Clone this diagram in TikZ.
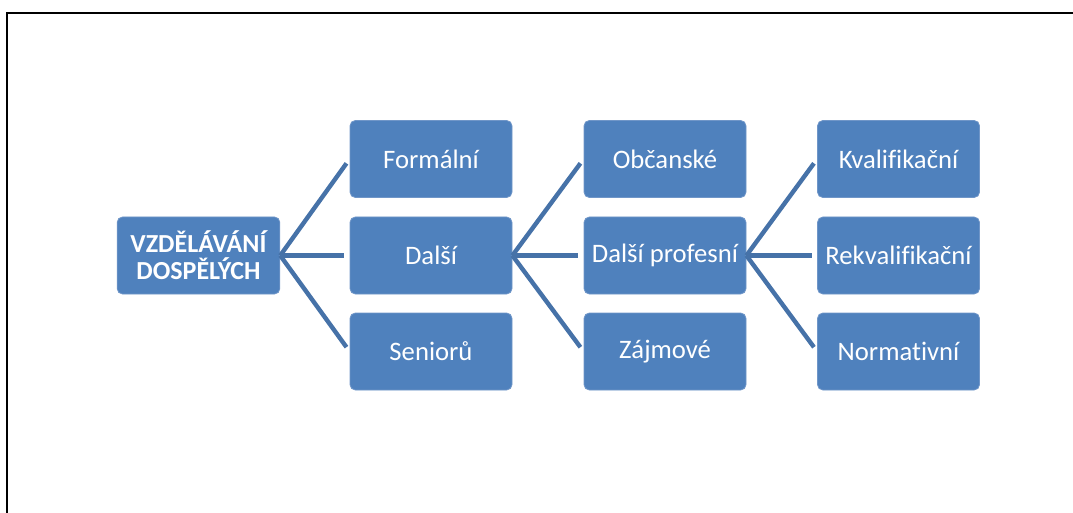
\documentclass[tikz,border=0pt]{standalone}
\usepackage{fontspec}
\setmainfont[RawFeature={-liga;-dlig}]{Carlito}
\definecolor{boxblue}{HTML}{4F81BD}
\definecolor{boxedge}{HTML}{7096C8}
\definecolor{linkblue}{HTML}{4672A8}
\tikzset{
  topic/.style={rectangle, rounded corners=4pt, fill=boxblue, draw=boxedge, line width=0.6pt,
    minimum width=121.5pt, minimum height=57.75pt, text=white, font=\fontsize{20}{22}\selectfont,
    align=center, inner sep=2pt},
  rootbox/.style={topic, minimum width=122pt, font=\bfseries\fontsize{19.5}{20.5}\selectfont},
  link/.style={linkblue, line width=3.3pt, shorten >=4pt}
}
\begin{document}
\begin{tikzpicture}[x=0.75pt, y=-0.75pt]
    \useasboundingbox (0,0) rectangle (1073,513);
    % frame
    \draw[line width=1.6pt] (1073,13) -- (7,13) -- (7,513);

    % Define nodes for the four levels
    \node[rootbox] (root) at (198.5, 255.5) {VZDĚLÁVÁNÍ\\DOSPĚLÝCH};

    \node[topic] (formal) at (431, 159) {Formální};
    \node[topic] (dalsi) at (431, 255.5) {Další};
    \node[topic] (senior) at (431, 351.5) {Seniorů};

    \node[topic] (obcan) at (665, 159) {Občanské};
    \node[topic] (profes) at (665, 255.5) {Další profesní};
    \node[topic] (zajem) at (665, 351.5) {Zájmové};

    \node[topic] (kval) at (898.5, 159) {Kvalifikační};
    \node[topic] (rekval) at (898.5, 255.5) {Rekvalifikační};
    \node[topic] (norm) at (898.5, 351.5) {Normativní};

    % Draw edges
    \draw[link] (root.east) -- (formal.west);
    \draw[link] (root.east) -- (dalsi.west);
    \draw[link] (root.east) -- (senior.west);

    \draw[link] (dalsi.east) -- (obcan.west);
    \draw[link] (dalsi.east) -- (profes.west);
    \draw[link] (dalsi.east) -- (zajem.west);

    \draw[link] (profes.east) -- (kval.west);
    \draw[link] (profes.east) -- (rekval.west);
    \draw[link] (profes.east) -- (norm.west);

\end{tikzpicture}
\end{document}
